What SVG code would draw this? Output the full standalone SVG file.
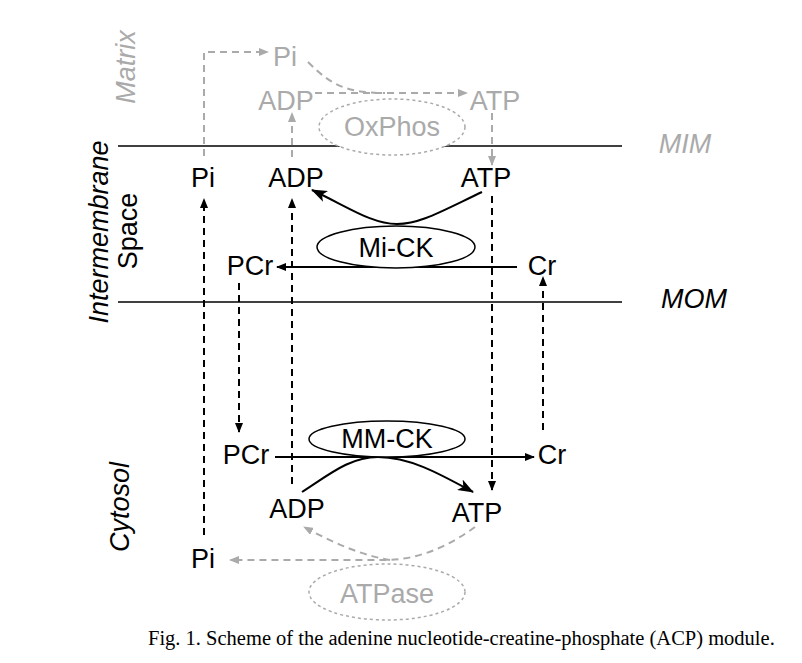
<svg xmlns="http://www.w3.org/2000/svg" width="802" height="663" viewBox="0 0 802 663">
<defs>
<marker id="ab" markerUnits="userSpaceOnUse" markerWidth="10" markerHeight="8" refX="9" refY="4" orient="auto"><path d="M0,0 L10,4 L0,8 z" fill="#000"/></marker>
<marker id="ag" markerUnits="userSpaceOnUse" markerWidth="10" markerHeight="8" refX="9" refY="4" orient="auto"><path d="M0,0 L10,4 L0,8 z" fill="#aaa"/></marker>
<marker id="abig" markerUnits="userSpaceOnUse" markerWidth="16" markerHeight="12" refX="15" refY="6" orient="auto"><path d="M0,0 L16,6 L0,12 L4,6 z" fill="#000"/></marker>
</defs>
<style>
text{font-family:"Liberation Sans",Arial,sans-serif;font-size:27px;text-anchor:middle;fill:#000}
.g{fill:#aaa}
.it{font-style:italic}
.cap{font-family:"Liberation Serif","Times New Roman",serif;font-size:20.5px;text-anchor:start}
.mem{stroke:#000;stroke-width:1.5;fill:none}
.bd{stroke:#000;stroke-width:2;stroke-dasharray:7 5;fill:none}
.gd{stroke:#aaa;stroke-width:2;stroke-dasharray:7 5;fill:none}
.bs{stroke:#000;stroke-width:2;fill:none}
.ell{fill:#fff;stroke:#000;stroke-width:1.5}
.gell{fill:#fff;stroke:#aaa;stroke-width:1.5;stroke-dasharray:3 3}
</style>
<g id="membranes">
<line class="mem" x1="118" y1="146" x2="622" y2="146"/>
<line class="mem" x1="118" y1="302" x2="622" y2="302"/>
</g>
<g id="connectors">
<path class="gd" d="M204,156 V52 H268" marker-end="url(#ag)"/>
<path class="gd" d="M308,62 C330,84 345,93 385,93"/>
<path class="gd" d="M315,93 H467" marker-end="url(#ag)"/>
<path class="gd" d="M292,157 V113" marker-end="url(#ag)"/>
<path class="gd" d="M492,113 V165" marker-end="url(#ag)"/>
<path class="bd" d="M204,535 V199" marker-end="url(#ab)"/>
<path class="bd" d="M292,484 V199" marker-end="url(#ab)"/>
<path class="bd" d="M492,196 V490" marker-end="url(#ab)"/>
<path class="bd" d="M543,430 V277" marker-end="url(#ab)"/>
<path class="bd" d="M239,283 V432" marker-end="url(#ab)"/>
<path class="bs" d="M482,192 C440,212 420,224 397,224 C372,224 350,208 312,190" marker-end="url(#abig)"/>
<path class="bs" d="M517,267 H277" marker-end="url(#ab)"/>
<path class="bs" d="M275,457 H534" marker-end="url(#ab)"/>
<path class="bs" d="M302,492 C330,474 350,457 378,457 C410,457 440,474 473,492" marker-end="url(#abig)"/>
<path class="gd" d="M475,527 C450,545 420,560 385,560 H230" marker-end="url(#ag)"/>
<path class="gd" d="M390,560 C360,555 332,542 304,527" marker-end="url(#ag)"/>
</g>
<g id="oxphos"><ellipse class="gell" cx="392" cy="127" rx="73" ry="28"/><text class="g" x="392" y="136">OxPhos</text></g>
<g id="mick"><ellipse class="ell" cx="396" cy="247" rx="79" ry="21"/><text x="396" y="257">Mi-CK</text></g>
<g id="mmck"><ellipse class="ell" cx="387" cy="439" rx="78" ry="18"/><text x="387" y="448">MM-CK</text></g>
<g id="atpase"><ellipse class="gell" cx="387" cy="592" rx="78" ry="28"/><text class="g" x="387" y="603">ATPase</text></g>
<g id="m_pi"><text class="g" x="285" y="66">Pi</text></g>
<g id="m_adp"><text class="g" x="286" y="110">ADP</text></g>
<g id="m_atp"><text class="g" x="495" y="110">ATP</text></g>
<g id="i_pi"><text x="203" y="187">Pi</text></g>
<g id="i_adp"><text x="296" y="187">ADP</text></g>
<g id="i_atp"><text x="486" y="187">ATP</text></g>
<g id="i_pcr"><text x="250" y="275">PCr</text></g>
<g id="i_cr"><text x="542" y="275">Cr</text></g>
<g id="c_pcr"><text x="246" y="464">PCr</text></g>
<g id="c_cr"><text x="552" y="464">Cr</text></g>
<g id="c_adp"><text x="297" y="518">ADP</text></g>
<g id="c_atp"><text x="477" y="522">ATP</text></g>
<g id="c_pi"><text x="203" y="568">Pi</text></g>
<g id="labels">
<text class="g it" transform="translate(135,67) rotate(-90)">Matrix</text>
<text class="it" transform="translate(108,232) rotate(-90)">Intermembrane</text>
<text transform="translate(137,231) rotate(-90)">Space</text>
<text class="it" transform="translate(129,507) rotate(-90)">Cytosol</text>
<text class="g it" x="685" y="153">MIM</text>
<text class="it" x="694" y="308">MOM</text>
<text class="cap" x="148" y="645">Fig. 1. Scheme of the adenine nucleotide-creatine-phosphate (ACP) module.</text>
</g>
</svg>
